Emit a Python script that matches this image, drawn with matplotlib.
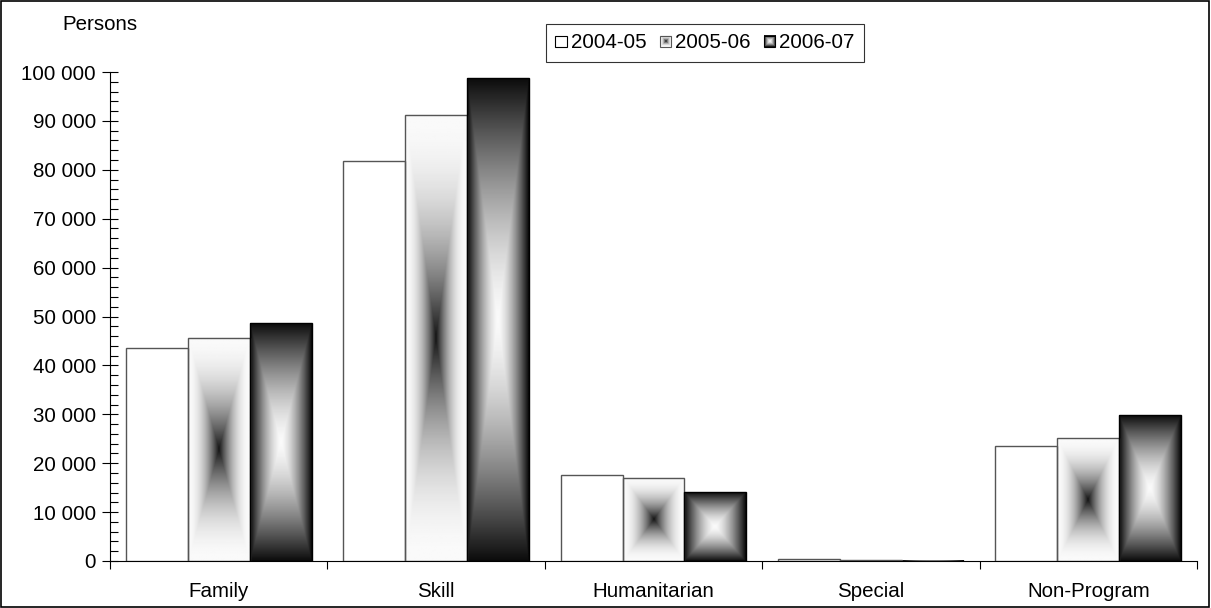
import numpy as np
import matplotlib
matplotlib.use("Agg")
import matplotlib.pyplot as plt
from matplotlib.patches import Rectangle
from matplotlib.image import BboxImage
from matplotlib.transforms import Bbox, TransformedBbox
from matplotlib.legend_handler import HandlerBase
from matplotlib.ticker import MultipleLocator, FuncFormatter

plt.rcParams['font.family'] = ['Liberation Sans', 'DejaVu Sans']

#########################################################
# Data
#########################################################

categories = ["Family", "Skill", "Humanitarian", "Special", "Non-Program"]
years = ["2004-05", "2005-06", "2006-07"]
v_2004_05 = [43500, 81700, 17500, 400, 23500]
v_2005_06 = [45700, 91300, 17000, 150, 25100]
v_2006_07 = [48600, 98700, 14100, 100, 29800]

FS = 14.8

#########################################################
# Gradients (rectangular "from centre" fill)
#########################################################

def rect_gradient(n_rows, n_cols, invert):
    u = np.abs(np.linspace(-1, 1, n_cols))[None, :]
    v = np.abs(np.linspace(-1, 1, n_rows))[:, None]
    t = np.maximum(u, v)
    if not invert:
        return 0.98 - 0.9 * (1 - t) ** 2
    return 0.98 - 0.93 * t ** 1.5

styles = [
    dict(kind=None, edge="#555555"),
    dict(kind=False, edge="#555555"),
    dict(kind=True, edge="black"),
]


class GradientHandler(HandlerBase):
    def __init__(self, kind, edge):
        super().__init__()
        self.kind = kind
        self.edge = edge

    def create_artists(self, legend, orig_handle, xdescent, ydescent,
                       width, height, fontsize, trans):
        side = min(width, height)
        x0 = -xdescent + (width - side) / 2
        y0 = -ydescent + (height - side) / 2
        arts = []
        if self.kind is not None:
            bb = TransformedBbox(Bbox.from_bounds(x0, y0, side, side), trans)
            img = BboxImage(bb, cmap="gray", norm=plt.Normalize(0, 1),
                            interpolation="bilinear")
            img.set_data(rect_gradient(20, 20, self.kind))
            arts.append(img)
        rect = Rectangle((x0, y0), side, side, facecolor="none" if self.kind is not None else "white",
                         edgecolor=self.edge if self.kind is not None else "black",
                         linewidth=0.8, transform=trans)
        arts.append(rect)
        return arts

#########################################################
# Plot
#########################################################

fig = plt.figure(figsize=(12.11, 6.08), dpi=100)
ax = fig.add_axes([110 / 1211, 1 - 561 / 608, (1197 - 110) / 1211, (561 - 72) / 608])

x = np.arange(len(categories))
width = 0.285
series = [v_2004_05, v_2005_06, v_2006_07]
handles = []
for i, (vals, st) in enumerate(zip(series, styles)):
    bars = ax.bar(x + (i - 1) * width, vals, width,
                  facecolor="white" if st["kind"] is None else "none",
                  edgecolor=st["edge"], linewidth=1.0, zorder=3)
    handles.append(bars[0])
    if st["kind"] is not None:
        for b in bars:
            bx, by, bw, bh = b.get_x(), b.get_y(), b.get_width(), b.get_height()
            ax.imshow(rect_gradient(200, 60, st["kind"]), cmap="gray", vmin=0, vmax=1,
                      extent=(bx, bx + bw, by, by + bh), aspect="auto",
                      interpolation="bilinear", zorder=2)

ax.set_xlim(-0.5, len(categories) - 0.5)
ax.set_ylim(0, 100000)
ax.set_aspect("auto")

ax.spines["top"].set_visible(False)
ax.spines["right"].set_visible(False)

ax.yaxis.set_major_locator(MultipleLocator(10000))
ax.yaxis.set_minor_locator(MultipleLocator(2000))
ax.yaxis.set_major_formatter(FuncFormatter(lambda v, p: f"{int(v):,}".replace(",", " ")))
ax.tick_params(axis="y", which="major", direction="inout", length=12, width=0.8, labelsize=FS, pad=4)
ax.tick_params(axis="y", which="minor", direction="in", length=6, width=0.8)

ax.set_xticks(np.arange(len(categories) + 1) - 0.5)
ax.set_xticklabels([])
ax.set_xticks(x, minor=True)
ax.set_xticklabels(categories, minor=True)
ax.tick_params(axis="x", which="major", direction="out", length=6, width=0.8)
ax.tick_params(axis="x", which="minor", length=0, labelsize=FS, pad=15)

fig.text(137 / 1211, 1 - 24 / 608, "Persons", ha="right", va="center", fontsize=FS)

hmap = {h: GradientHandler(st["kind"], st["edge"]) for h, st in zip(handles, styles)}
leg = fig.legend(handles, years, loc="center", bbox_to_anchor=(705 / 1211, 1 - 43 / 608),
                 ncol=3, handler_map=hmap, fontsize=FS, frameon=True, fancybox=False,
                 handlelength=0.55, handleheight=0.55, handletextpad=0.2, columnspacing=0.65,
                 borderpad=0.45, borderaxespad=0)
leg.get_frame().set_edgecolor("black")
leg.get_frame().set_linewidth(0.8)

fig.patches.append(Rectangle((0.001, 0.001), 0.997, 0.997, transform=fig.transFigure,
                             fill=False, edgecolor="black", linewidth=1.2))

fig.savefig("out.png", dpi=100)
